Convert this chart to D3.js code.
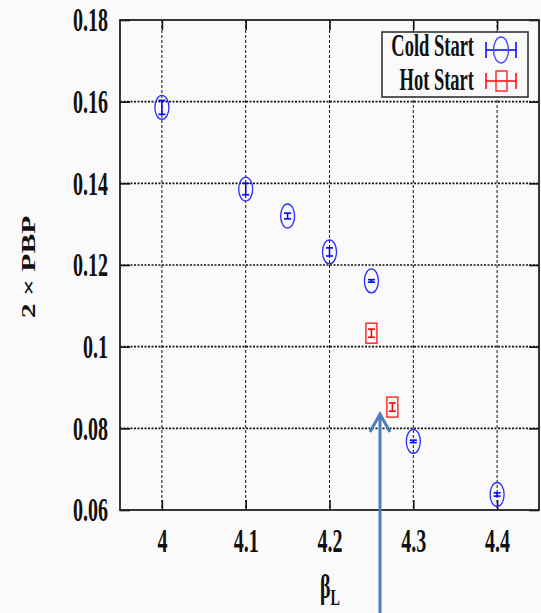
<!DOCTYPE html>
<head>
<meta charset="utf-8">
<script src="https://d3js.org/d3.v7.min.js"></script>
<title>PBP vs beta</title>
<style>
  body { margin: 0; background: #fafafa; }
  svg { display: block; }
  text { font-family: "Liberation Serif", "Times New Roman", serif; font-weight: bold; fill: #111; }
</style>
</head>

<body>
<div id="graph_container"></div>

<script>
// values
let coldBeta = [4.0, 4.1, 4.15, 4.2, 4.25, 4.3, 4.4];
let coldPBP  = [0.1586, 0.1386, 0.1320, 0.1232, 0.1161, 0.0768, 0.0638];
let coldErr  = [0.0017, 0.0014, 0.0007, 0.0010, 0.0003, 0.0003, 0.0004];

let hotBeta = [4.25, 4.275];
let hotPBP  = [0.1033, 0.0852];
let hotErr  = [0.0010, 0.0010];

let xTicks = [4, 4.1, 4.2, 4.3, 4.4];
let yTicks = [0.06, 0.08, 0.1, 0.12, 0.14, 0.16, 0.18];

let legendLabels = ['Cold Start', 'Hot Start'];

let sy = 1.65; // the text in the picture is stretched up/down

let svg = d3.select('#graph_container').append('svg')
    .attr('width', 541).attr('height', 613);

let x = d3.scaleLinear().domain([3.95, 4.45]).range([120, 539]);
let y = d3.scaleLinear().domain([0.06, 0.18]).range([510, 20]);

let pLeft = x.range()[0], pRight = x.range()[1];
let pTop = y.range()[1], pBottom = y.range()[0];

// grid
svg.append('g').selectAll('line')
    .data(yTicks.slice(1, -1))
    .enter().append('line')
    .attr('x1', pLeft).attr('x2', pRight)
    .attr('y1', d => y(d)).attr('y2', d => y(d))
    .style('stroke', '#111').style('stroke-width', 1.6)
    .style('stroke-dasharray', '2,1.5');

svg.append('g').selectAll('line')
    .data(xTicks)
    .enter().append('line')
    .attr('x1', d => x(d)).attr('x2', d => x(d))
    .attr('y1', pTop).attr('y2', pBottom)
    .style('stroke', '#111').style('stroke-width', 1)
    .style('stroke-dasharray', '3,2');

// axes, ticks pointing inward on all four sides
let yAxis = svg.append('g')
    .attr('transform', `translate(${pLeft},0)`)
    .call(d3.axisLeft(y).tickValues(yTicks).tickSize(-10).tickFormat(d3.format('~g')));
yAxis.selectAll('text')
    .attr('x', -12).attr('dy', '0.33em')
    .attr('transform', `scale(1,${sy})`)
    .style('font-size', '20px');

let xAxis = svg.append('g')
    .attr('transform', `translate(0,${pBottom})`)
    .call(d3.axisBottom(x).tickValues(xTicks).tickSize(-10).tickFormat(d3.format('~g')));
xAxis.selectAll('text')
    .attr('y', 25.4).attr('dy', 0)
    .attr('transform', `scale(1,${sy})`)
    .style('font-size', '20px');

svg.append('g')
    .attr('transform', `translate(${pRight},0)`)
    .call(d3.axisRight(y).tickValues(yTicks).tickSize(-10).tickFormat(''));
svg.append('g')
    .attr('transform', `translate(0,${pTop})`)
    .call(d3.axisTop(x).tickValues(xTicks).tickSize(-10).tickFormat(''));

svg.selectAll('.domain').remove();
svg.selectAll('.tick line').style('stroke', '#111').style('stroke-width', 1.6);
svg.selectAll('.tick text').style('fill', '#111').style('font-family', '"Liberation Serif", serif');

// frame
svg.append('rect')
    .attr('x', pLeft).attr('y', pTop)
    .attr('width', pRight - pLeft).attr('height', pBottom - pTop)
    .style('fill', 'none').style('stroke', '#222').style('stroke-width', 1.8);

// axis titles
svg.append('text')
    .attr('transform', `translate(330,598) scale(1,${sy})`)
    .style('text-anchor', 'middle')
    .style('font-size', '20px')
    .html('β<tspan dy="4" style="font-size:14px">L</tspan>');

svg.append('text')
    .attr('transform', `translate(35,267) scale(1,${sy}) rotate(-90)`)
    .style('text-anchor', 'middle')
    .style('font-size', '18px')
    .text('2 × PBP');

// error bars + markers
function errbar(g, bx, by, be, color, hw) {
    g.append('line')
        .attr('x1', bx).attr('x2', bx)
        .attr('y1', y(by - be)).attr('y2', y(by + be))
        .style('stroke', color).style('stroke-width', 1.5);
    [by - be, by + be].forEach(function(v) {
        g.append('line')
            .attr('x1', bx - hw).attr('x2', bx + hw)
            .attr('y1', y(v)).attr('y2', y(v))
            .style('stroke', color).style('stroke-width', 1.6);
    });
}

let cold = svg.append('g');
coldBeta.forEach(function(b, i) {
    errbar(cold, x(b), coldPBP[i], coldErr[i], '#0000ff', 3.5);
    cold.append('ellipse')
        .attr('cx', x(b)).attr('cy', y(coldPBP[i]))
        .attr('rx', 7).attr('ry', 12)
        .style('fill', 'none').style('stroke', '#2a2aff').style('stroke-width', 1.3);
});

let hot = svg.append('g');
hotBeta.forEach(function(b, i) {
    errbar(hot, x(b), hotPBP[i], hotErr[i], '#ff0000', 3.5);
    hot.append('rect')
        .attr('x', x(b) - 5.5).attr('y', y(hotPBP[i]) - 10)
        .attr('width', 11).attr('height', 20)
        .style('fill', 'none').style('stroke', '#ff2020').style('stroke-width', 1.4);
});

// legend
let lg = svg.append('g');
lg.append('rect')
    .attr('x', 382).attr('y', 32).attr('width', 146).attr('height', 65)
    .style('fill', '#fafafa').style('stroke', '#333').style('stroke-width', 1.6);

let legendY = [50, 81];
let legendTextY = [45.5, 79.5];
legendLabels.forEach(function(name, i) {
    lg.append('text')
        .attr('transform', `translate(474,${legendTextY[i]}) scale(1,1.7)`)
        .attr('dy', '0.33em')
        .style('text-anchor', 'end')
        .style('font-size', '18.5px')
        .text(name);
    let color = i == 0 ? '#0000ff' : '#ff0000';
    lg.append('line')
        .attr('x1', 486).attr('x2', 516)
        .attr('y1', legendY[i]).attr('y2', legendY[i])
        .style('stroke', color).style('stroke-width', 1.5);
    [486, 516].forEach(function(cx) {
        lg.append('line')
            .attr('x1', cx).attr('x2', cx)
            .attr('y1', legendY[i] - 8).attr('y2', legendY[i] + 8)
            .style('stroke', color).style('stroke-width', 1.5);
    });
    if (i == 0) {
        lg.append('ellipse')
            .attr('cx', 501).attr('cy', legendY[i]).attr('rx', 7.5).attr('ry', 13)
            .style('fill', 'none').style('stroke', '#4444ff').style('stroke-width', 1.3);
    } else {
        lg.append('rect')
            .attr('x', 496).attr('y', legendY[i] - 10).attr('width', 11).attr('height', 20)
            .style('fill', 'none').style('stroke', '#ff2020').style('stroke-width', 1.4);
    }
});

// annotation arrow pointing at the hot start point
let arrowX = 380;
svg.append('path')
    .attr('d', `M${arrowX},613 L${arrowX},415 M${arrowX - 10},432 L${arrowX},414 L${arrowX + 10},432`)
    .style('fill', 'none').style('stroke', '#4a7ebb').style('stroke-width', 3);
</script>
</body>
